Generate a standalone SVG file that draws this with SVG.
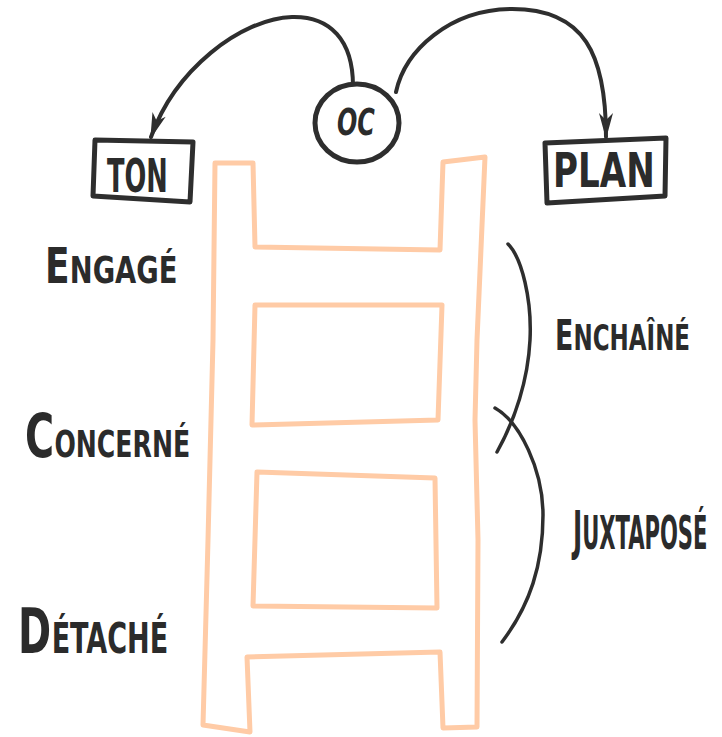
<svg xmlns="http://www.w3.org/2000/svg" width="722" height="737" viewBox="0 0 722 737">
<style>
.ink{fill:none;stroke:#2e2e2e;stroke-linecap:round;stroke-linejoin:round}
.box{fill:#fff;stroke:#2e2e2e;stroke-width:5;stroke-linejoin:round}
.lad{fill:none;stroke:#ffcba6;stroke-width:5;stroke-linejoin:round;stroke-linecap:round}
.t{font-family:"DejaVu Sans Condensed","Liberation Sans Narrow","Liberation Sans",sans-serif;font-weight:bold;fill:#2b2b2b}
</style>
<defs>
<marker id="ah" markerUnits="userSpaceOnUse" markerWidth="30" markerHeight="20" viewBox="-26 -10 30 20" refX="0" refY="0" orient="auto">
<path d="M2,0 L-24,-7 L-17,0 L-24,7 Z" fill="#2e2e2e"/>
</marker>
</defs>
<rect width="722" height="737" fill="#fff"/>
<g id="ladder">
<path class="lad" d="M215,163 L253,163 L255,247 L440,250 L443,162 L485,157 L477,340 L475,420 L478,540 L477,727 L443,728 L440,652 L247,657 L250,732 L203,725 L208,540 L213,340 Z"/>
<path class="lad" d="M255,305 L442,305 L438,420 L252,425 Z"/>
<path class="lad" d="M257,472 L435,478 L437,608 L253,606 Z"/>
</g>
<g id="connectors">
<path class="ink" stroke-width="4" d="M353,86 C353,40 330,16 292,17 C240,19 175,70 151,137" marker-end="url(#ah)"/>
<path class="ink" stroke-width="4" d="M396,92 C405,50 450,10 510,9 C585,8 606,55 606,137" marker-end="url(#ah)"/>
</g>
<g id="brackets">
<path class="ink" stroke-width="3.5" d="M508,244 C522,258 532,300 530,340 C528,380 515,420 497,452"/>
<path class="ink" stroke-width="3.5" d="M495,408 C520,422 543,470 543,515 C543,565 530,605 502,642"/>
</g>
<g id="node-oc">
<ellipse class="box" cx="357" cy="123" rx="42" ry="39"/>
<text class="t" transform="translate(337,135) scale(0.7,1)" font-size="38" font-style="italic">OC</text>
</g>
<g id="node-ton">
<path class="box" d="M95,140 L193,142 L190,202 L93,196 Z"/>
<text class="t" transform="translate(107,192) scale(0.62,1)" font-size="46">TON</text>
</g>
<g id="node-plan">
<path class="box" d="M545,143 L666,138 L665,196 L547,203 Z"/>
<text class="t" transform="translate(553,187) scale(0.79,1)" font-size="48">PLAN</text>
</g>
<g id="label-engage" transform="translate(45,283) scale(0.8,1)">
<text class="t" x="0" y="0" font-size="50">E</text>
<text class="t" x="31" y="0" font-size="38">NGAGÉ</text>
</g>
<g id="label-concerne" transform="translate(25,457) scale(0.736,1)">
<text class="t" x="0" y="0" font-size="60">C</text>
<text class="t" x="40" y="0" font-size="38">ONCERNÉ</text>
</g>
<g id="label-detache" transform="translate(18,653) scale(0.716,1)">
<text class="t" x="0" y="0" font-size="62">D</text>
<text class="t" x="47" y="0" font-size="42">ÉTACHÉ</text>
</g>
<g id="label-enchaine" transform="translate(555,350) scale(0.71,1)">
<text class="t" x="0" y="0" font-size="42">E</text>
<text class="t" x="26" y="0" font-size="36">NCHAÎNÉ</text>
</g>
<g id="label-juxtapose" transform="translate(573,549) scale(0.51,1)">
<text class="t" x="0" y="0" font-size="54">J</text>
<text class="t" x="18" y="0" font-size="46">UXTAPOSÉ</text>
</g>
</svg>
